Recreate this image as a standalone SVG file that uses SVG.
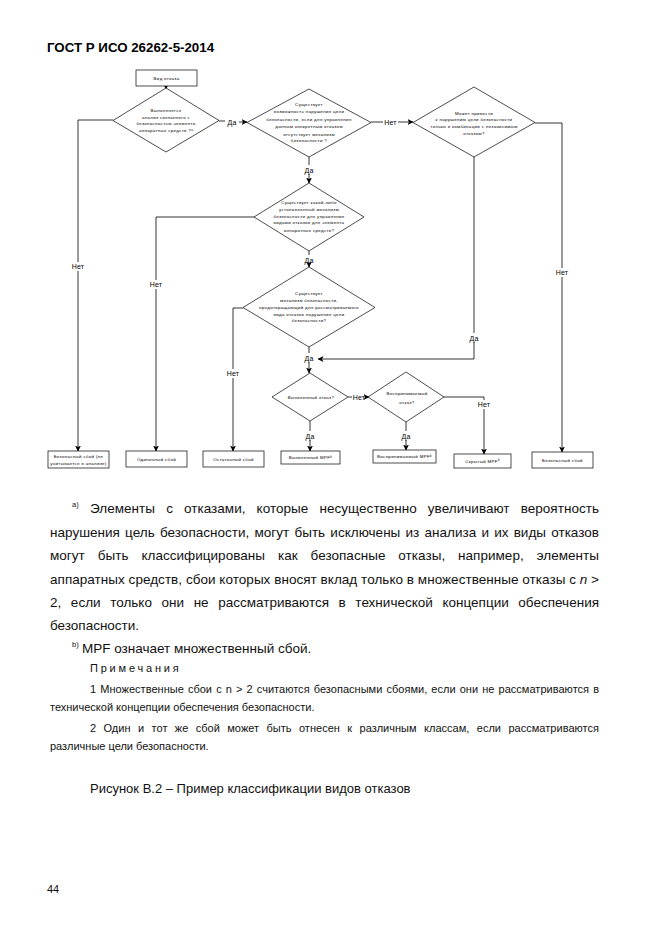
<svg xmlns="http://www.w3.org/2000/svg" width="661" height="935" viewBox="0 0 661 935">
<style>
.bg{fill:#fff}
.n{fill:#fff;stroke:#000;stroke-width:0.7}
.c{fill:none;stroke:#000;stroke-width:0.8}
.t{font-family:"Liberation Sans",Arial,sans-serif;font-size:4.4px;letter-spacing:0.35px;text-anchor:middle;fill:#000}
.l{font-family:"Liberation Sans",Arial,sans-serif;font-size:7px;letter-spacing:0.2px;text-anchor:middle;fill:#000}
.sup{font-size:2.8px}
.h{font-family:"Liberation Sans",Arial,sans-serif;font-size:13.3px;font-weight:bold;fill:#000}
.b{font-family:"Liberation Sans",Arial,sans-serif;font-size:13.5px;fill:#111}
.cap{font-family:"Liberation Sans",Arial,sans-serif;font-size:13px;fill:#111}
.s{font-family:"Liberation Sans",Arial,sans-serif;font-size:11px;fill:#111}
.bs{font-family:"Liberation Sans",Arial,sans-serif;font-size:7.5px;fill:#111}
</style>
<defs>
<marker id="ar" markerWidth="6" markerHeight="6" refX="5.5" refY="3" orient="auto" markerUnits="userSpaceOnUse">
<path d="M0,0 L6,3 L0,6 L1.5,3 z" fill="#000"/>
</marker>
</defs>
<rect class="bg" x="0" y="0" width="661" height="935"/>
<text class="h" x="47" y="52">ГОСТ Р ИСО 26262-5-2014</text>

<g id="connectors">
<path class="c" d="M166,86 V89" marker-end="url(#ar)"/>
<path class="c" d="M219,121 H225"/>
<path class="c" d="M239,122 H247" marker-end="url(#ar)"/>
<path class="c" d="M371,122 H383"/>
<path class="c" d="M398,122 H413" marker-end="url(#ar)"/>
<path class="c" d="M535,123 H562 V268"/>
<path class="c" d="M562,277 V452" marker-end="url(#ar)"/>
<path class="c" d="M474,157 V333"/>
<path class="c" d="M474,342 V359 H318" marker-end="url(#ar)"/>
<path class="c" d="M309,157 V165"/>
<path class="c" d="M309,174 V183" marker-end="url(#ar)"/>
<path class="c" d="M309,251 V255"/>
<path class="c" d="M309,264 V267" marker-end="url(#ar)"/>
<path class="c" d="M254,217 H156 V280"/>
<path class="c" d="M156,289 V451" marker-end="url(#ar)"/>
<path class="c" d="M243,308 H233 V369"/>
<path class="c" d="M233,378 V451" marker-end="url(#ar)"/>
<path class="c" d="M113,120 H78 V262"/>
<path class="c" d="M78,271 V451" marker-end="url(#ar)"/>
<path class="c" d="M309,347 V353"/>
<path class="c" d="M309,362 V373" marker-end="url(#ar)"/>
<path class="c" d="M348,397 H352"/>
<path class="c" d="M366,397 H369" marker-end="url(#ar)"/>
<path class="c" d="M444,397 H484 V400"/>
<path class="c" d="M484,409 V454" marker-end="url(#ar)"/>
<path class="c" d="M310,421 V431"/>
<path class="c" d="M310,440 V451" marker-end="url(#ar)"/>
<path class="c" d="M406,422 V431"/>
<path class="c" d="M406,440 V450" marker-end="url(#ar)"/>
<text class="l" x="232" y="124.5">Да</text>
<text class="l" x="390.5" y="124.5">Нет</text>
<text class="l" x="562" y="275">Нет</text>
<text class="l" x="474" y="340.5">Да</text>
<text class="l" x="309" y="172.5">Да</text>
<text class="l" x="309" y="262.5">Да</text>
<text class="l" x="156" y="287">Нет</text>
<text class="l" x="233" y="376">Нет</text>
<text class="l" x="78" y="269">Нет</text>
<text class="l" x="309" y="360.5">Да</text>
<text class="l" x="359" y="399.5">Нет</text>
<text class="l" x="484" y="406.5">Нет</text>
<text class="l" x="310" y="438.5">Да</text>
<text class="l" x="406" y="438.5">Да</text>
</g>

<g id="start">
<rect class="n" x="136" y="70" width="61" height="16"/>
<text class="t" x="166.5" y="79.5">Вид отказа</text>
</g>

<g id="d1">
<polygon class="n" points="166,88 219,120.5 166,152 113,120.5"/>
<text class="t" x="166" y="112">Выполняется</text>
<text class="t" x="166" y="118.5">анализ связанного с</text>
<text class="t" x="166" y="125">безопасностью элемента</text>
<text class="t" x="166" y="132">аппаратных средств ?<tspan class="sup" dy="-1.5">a</tspan></text>
</g>

<g id="d2">
<polygon class="n" points="309,89 371,122.5 309,157 247,122.5"/>
<text class="t" x="309" y="105.5">Существует</text>
<text class="t" x="309" y="113">возможность нарушения цели</text>
<text class="t" x="309" y="120.5">безопасности, если для управления</text>
<text class="t" x="309" y="128">данным конкретным отказом</text>
<text class="t" x="309" y="135.5">отсутствует механизм</text>
<text class="t" x="309" y="142">безопасности ?</text>
</g>

<g id="d3">
<polygon class="n" points="474,87 535,122.5 474,157 413,122.5"/>
<text class="t" x="474" y="114.5">Может привести</text>
<text class="t" x="474" y="121">к нарушению цели безопасности</text>
<text class="t" x="474" y="128">только в комбинации с независимым</text>
<text class="t" x="474" y="134.5">отказом?</text>
</g>

<g id="d4">
<polygon class="n" points="309,183 364,217 309,251 254,217"/>
<text class="t" x="309" y="204">Существует какой-либо</text>
<text class="t" x="309" y="210.5">установленный механизм</text>
<text class="t" x="309" y="217.5">безопасности для управления</text>
<text class="t" x="309" y="224">видами отказов для элемента</text>
<text class="t" x="309" y="231.5">аппаратных средств?</text>
</g>

<g id="d5">
<polygon class="n" points="309,267 375,307.5 309,347 243,307.5"/>
<text class="t" x="309" y="294.5">Существует</text>
<text class="t" x="309" y="301.5">механизм безопасности,</text>
<text class="t" x="309" y="308.5">предотвращающий для рассматриваемого</text>
<text class="t" x="309" y="315.5">вида отказов нарушение цели</text>
<text class="t" x="309" y="322">безопасности?</text>
</g>

<g id="d6">
<polygon class="n" points="310,373 348,397 310,421 272,397"/>
<text class="t" x="311" y="398.5">Выявленный отказ?</text>
</g>

<g id="d7">
<polygon class="n" points="406,372 444,397 406,422 368,397"/>
<text class="t" x="407" y="394.5">Воспринимаемый</text>
<text class="t" x="407" y="403.5">отказ?</text>
</g>

<g id="b1">
<rect class="n" x="48" y="451" width="61" height="17"/>
<text class="t" x="78.5" y="458">Безопасный сбой (не</text>
<text class="t" x="78.5" y="465">учитывается в анализе)</text>
</g>
<g id="b2">
<rect class="n" x="126" y="451" width="61" height="16"/>
<text class="t" x="156.5" y="460.5">Одиночный сбой</text>
</g>
<g id="b3">
<rect class="n" x="203" y="451" width="61" height="16"/>
<text class="t" x="233.5" y="460.5">Остаточный сбой</text>
</g>
<g id="b4">
<rect class="n" x="281" y="451" width="59" height="13"/>
<text class="t" x="310.5" y="459">Выявленный MPF<tspan class="sup" dy="-1.5">b</tspan></text>
</g>
<g id="b5">
<rect class="n" x="373" y="450" width="63" height="13"/>
<text class="t" x="404.5" y="458">Воспринимаемый MPF<tspan class="sup" dy="-1.5">b</tspan></text>
</g>
<g id="b6">
<rect class="n" x="454" y="454" width="57" height="14"/>
<text class="t" x="482.5" y="462.5">Скрытый MPF<tspan class="sup" dy="-1.5">b</tspan></text>
</g>
<g id="b7">
<rect class="n" x="532" y="452" width="61" height="16"/>
<text class="t" x="562.5" y="461.5">Безопасный сбой</text>
</g>

<text class="bs" x="72" y="507">a)</text>
<text class="b" x="90" y="513" word-spacing="7.3" textLength="509" lengthAdjust="spacing">Элементы с отказами, которые несущественно увеличивают вероятность</text>
<text class="b" x="50" y="537" word-spacing="1.4" textLength="549" lengthAdjust="spacing">нарушения цель безопасности, могут быть исключены из анализа и их виды отказов</text>
<text class="b" x="50" y="560" word-spacing="9.1" textLength="549" lengthAdjust="spacing">могут быть классифицированы как безопасные отказы, например, элементы</text>
<text class="b" x="50" y="584" textLength="549" lengthAdjust="spacing">аппаратных средств, сбои которых вносят вклад только в множественные отказы с <tspan font-style="italic">n</tspan> &gt;</text>
<text class="b" x="50" y="607" word-spacing="5.8" textLength="549" lengthAdjust="spacing">2, если только они не рассматриваются в технической концепции обеспечения</text>
<text class="b" x="50" y="630">безопасности.</text>
<text class="bs" x="72" y="647">b)</text>
<text class="b" x="82" y="653">MPF означает множественный сбой.</text>
<text class="s" x="90" y="672" letter-spacing="2.8">Примечания</text>
<text class="s" x="90" y="693" word-spacing="1" textLength="509" lengthAdjust="spacing">1 Множественные сбои с n &gt; 2 считаются безопасными сбоями, если они не рассматриваются в</text>
<text class="s" x="50" y="711">технической концепции обеспечения безопасности.</text>
<text class="s" x="90" y="732" word-spacing="4.3" textLength="509" lengthAdjust="spacing">2 Один и тот же сбой может быть отнесен к различным классам, если рассматриваются</text>
<text class="s" x="50" y="750">различные цели безопасности.</text>
<text class="cap" x="90" y="793">Рисунок В.2 – Пример классификации видов отказов</text>
<text class="s" x="47" y="893">44</text>
</svg>
